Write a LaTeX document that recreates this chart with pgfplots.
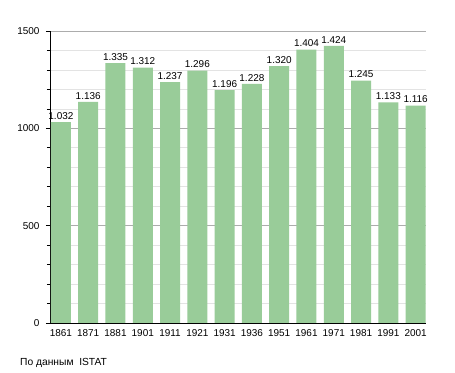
\documentclass[border=0pt]{standalone}
\usepackage{fontspec}
\setmainfont{Liberation Sans}
\usepackage{pgfplots}
\pgfplotsset{compat=1.18}
\definecolor{barg}{RGB}{153,204,153}
\begin{document}
\begin{tikzpicture}
\path[use as bounding box, fill=white] (0,0) rectangle (455bp,373bp);
\begin{axis}[
  at={(50bp,50bp)}, anchor=south west,
  scale only axis, width=376bp, height=292bp,
  xmin=-0.40, xmax=13.38, ymin=0, ymax=1500,
  axis x line*=bottom, axis y line*=left,
  axis line style={black, line width=0.8bp},
  xtick={0,...,13},
  xticklabels={1861,1871,1881,1901,1911,1921,1931,1936,1951,1961,1971,1981,1991,2001},
  x tick style={draw=none},
  ytick={0,500,1000,1500},
  minor ytick={100,200,300,400,600,700,800,900,1100,1200,1300,1400},
  ymajorgrids, yminorgrids,
  major grid style={gray!65, line width=0.6bp},
  minor grid style={gray!22, line width=0.6bp},
  tick align=outside, major tick length=4bp, minor tick length=3bp,
  y tick style={black, line width=0.6bp},
  tick label style={font=\fontsize{10}{12}\selectfont},
  /pgf/number format/assume math mode=true,
  /pgf/number format/1000 sep={},
  xticklabel style={yshift=1bp},
  yticklabel style={xshift=-3bp},
  ybar, bar width=20bp,
  nodes near coords, point meta=explicit symbolic,
  every node near coord/.append style={font=\fontsize{10}{12}\selectfont, inner sep=1.5bp, yshift=1bp},
]
\addplot[fill=barg, draw=none] coordinates {
(0,1032)[1.032] (1,1136)[1.136] (2,1335)[1.335] (3,1312)[1.312]
(4,1237)[1.237] (5,1296)[1.296] (6,1196)[1.196] (7,1228)[1.228]
(8,1320)[1.320] (9,1404)[1.404] (10,1424)[1.424] (11,1245)[1.245]
(12,1133)[1.133] (13,1116)[1.116]};
\end{axis}
\node[anchor=base west, font=\fontsize{10.3}{12}\selectfont, inner sep=0] at (20bp,8bp) {По данным\ \ ISTAT};
\end{tikzpicture}
\end{document}
